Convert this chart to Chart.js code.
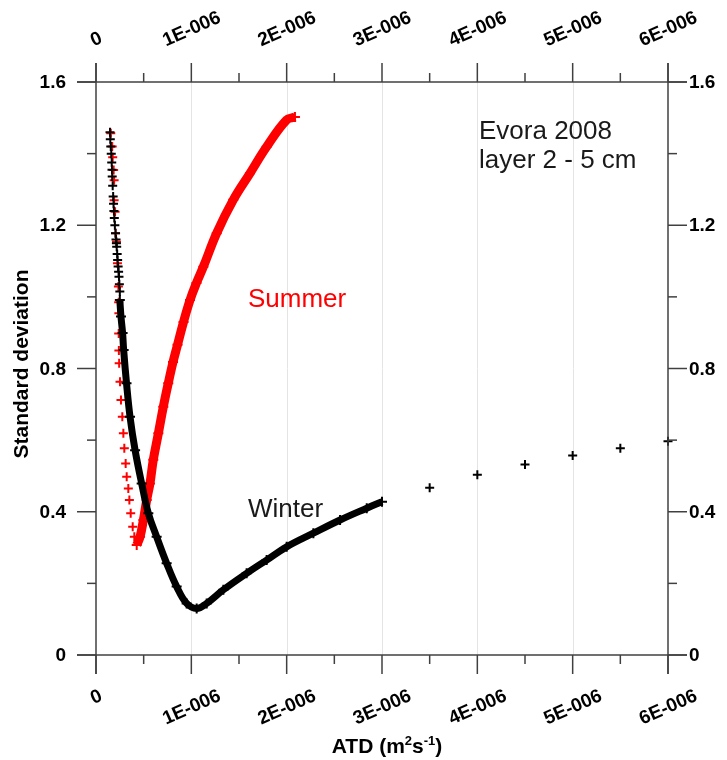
<!DOCTYPE html>
<html>
<head>
<meta charset="utf-8">
<script src="https://cdn.jsdelivr.net/npm/chart.js@4"></script>
<style>
  body { margin: 0; background: #fff; }
  canvas { display: block; }
</style>
</head>
<body>
<canvas id="chartCanvas" width="727" height="760"></canvas>
<script>
// ==========================================
// Data
// ==========================================
const xTickValues = [0, 1e-6, 2e-6, 3e-6, 4e-6, 5e-6, 6e-6];
const xTickLabels = ["0", "1E-006", "2E-006", "3E-006", "4E-006", "5E-006", "6E-006"];
const yTickValues = [0, 0.4, 0.8, 1.2, 1.6];
const yTickLabels = ["0", "0.4", "0.8", "1.2", "1.6"];

// Winter - steep upper branch, separate crosses
const winterTopX = [0.147e-6, 0.150e-6, 0.155e-6, 0.160e-6, 0.165e-6, 0.168e-6, 0.170e-6, 0.175e-6,
                    0.180e-6, 0.184e-6, 0.188e-6, 0.192e-6, 0.198e-6, 0.205e-6, 0.210e-6, 0.214e-6,
                    0.217e-6, 0.222e-6, 0.227e-6, 0.232e-6, 0.237e-6, 0.241e-6, 0.245e-6, 0.250e-6];
const winterTopY = [1.46, 1.44, 1.42, 1.40, 1.375, 1.355, 1.336, 1.31,
                    1.28, 1.26, 1.24, 1.22, 1.20, 1.178, 1.16, 1.15,
                    1.14, 1.12, 1.103, 1.085, 1.07, 1.056, 1.035, 1.015];

// Winter - dense branch through the minimum up to 3E-006
const winterMainX = [0.250e-6, 0.262e-6, 0.279e-6, 0.290e-6, 0.320e-6, 0.357e-6, 0.410e-6, 0.479e-6,
                     0.549e-6, 0.636e-6, 0.741e-6, 0.846e-6, 0.951e-6, 1.056e-6, 1.161e-6, 1.336e-6,
                     1.580e-6, 1.790e-6, 2.000e-6, 2.280e-6, 2.560e-6, 2.840e-6, 3.000e-6];
const winterMainY = [0.991, 0.945, 0.899, 0.852, 0.759, 0.665, 0.572, 0.479,
                     0.396, 0.330, 0.256, 0.191, 0.144, 0.130, 0.144, 0.182,
                     0.228, 0.265, 0.302, 0.340, 0.377, 0.410, 0.428];

// Winter - sparse points beyond 3E-006
const winterTailX = [3.5e-6, 4.0e-6, 4.5e-6, 5.0e-6, 5.5e-6, 6.0e-6];
const winterTailY = [0.467, 0.503, 0.532, 0.557, 0.577, 0.597];

// Summer - falling branch, separate crosses
const summerDownX = [0.155e-6, 0.170e-6, 0.175e-6, 0.185e-6, 0.190e-6, 0.190e-6, 0.200e-6, 0.205e-6,
                     0.215e-6, 0.225e-6, 0.235e-6, 0.238e-6, 0.240e-6, 0.238e-6, 0.240e-6, 0.243e-6,
                     0.252e-6, 0.262e-6, 0.276e-6, 0.287e-6, 0.297e-6, 0.311e-6, 0.322e-6, 0.339e-6,
                     0.350e-6, 0.364e-6, 0.385e-6, 0.402e-6];
const summerDownY = [1.457, 1.42, 1.39, 1.354, 1.326, 1.27, 1.238, 1.178,
                     1.154, 1.094, 1.029, 0.985, 0.954, 0.898, 0.85, 0.815,
                     0.763, 0.712, 0.665, 0.619, 0.577, 0.535, 0.498, 0.465,
                     0.433, 0.396, 0.358, 0.330];

// Summer - rising branch from the minimum
const summerUpX = [0.427e-6, 0.462e-6, 0.497e-6, 0.532e-6, 0.566e-6, 0.601e-6, 0.654e-6, 0.706e-6,
                   0.758e-6, 0.808e-6, 0.855e-6, 0.918e-6, 0.986e-6, 1.054e-6, 1.126e-6, 1.266e-6,
                   1.440e-6, 1.615e-6, 1.790e-6, 2.000e-6, 2.087e-6];
const summerUpY = [0.307, 0.330, 0.377, 0.433, 0.479, 0.545, 0.619, 0.693,
                   0.759, 0.818, 0.866, 0.930, 0.991, 1.039, 1.084, 1.178,
                   1.271, 1.345, 1.419, 1.494, 1.502];

const pts = (xs, ys) => xs.map((x, i) => ({ x: x, y: ys[i] }));

// ==========================================
// Axes frame, ticks, labels and notes
// ==========================================
const FONT = "'Liberation Sans', Arial, sans-serif";
const TICK = 19, MINOR = 9;

const frame = {
    id: "frame",
    beforeDatasetsDraw(chart) {
        const { ctx, chartArea: a, scales: { x } } = chart;
        ctx.save();
        ctx.strokeStyle = "#e4e4e4";
        ctx.lineWidth = 1;
        xTickValues.slice(1, -1).forEach(v => {
            const px = Math.round(x.getPixelForValue(v)) + 0.5;
            ctx.beginPath();
            ctx.moveTo(px, a.top);
            ctx.lineTo(px, a.bottom);
            ctx.stroke();
        });
        ctx.restore();
    },
    afterDatasetsDraw(chart) {
        const { ctx, chartArea: a, scales: { x, y } } = chart;
        ctx.save();
        ctx.strokeStyle = "#404040";
        ctx.lineWidth = 1.5;
        const seg = (x1, y1, x2, y2) => {
            ctx.beginPath(); ctx.moveTo(x1, y1); ctx.lineTo(x2, y2); ctx.stroke();
        };

        // frame lines run past the corners
        seg(a.left - TICK, a.top, a.right + TICK, a.top);
        seg(a.left - TICK, a.bottom, a.right + TICK, a.bottom);
        seg(a.left, a.top - TICK, a.left, a.bottom + TICK);
        seg(a.right, a.top - TICK, a.right, a.bottom + TICK);

        // x ticks top and bottom, minor every 0.5E-006
        for (let i = 0; i <= 12; i++) {
            const px = x.getPixelForValue(i * 0.5e-6);
            const len = i % 2 === 0 ? TICK : MINOR;
            seg(px, a.top - len, px, a.top);
            seg(px, a.bottom, px, a.bottom + len);
        }
        // y ticks left and right, minor every 0.2
        for (let i = 0; i <= 8; i++) {
            const py = y.getPixelForValue(i * 0.2);
            const len = i % 2 === 0 ? TICK : MINOR;
            seg(a.left - len, py, a.left, py);
            seg(a.right, py, a.right + len, py);
        }

        // y tick labels on both sides
        ctx.fillStyle = "#000";
        ctx.font = "bold 19px " + FONT;
        ctx.textBaseline = "middle";
        yTickValues.forEach((v, i) => {
            const py = y.getPixelForValue(v) + 1;
            ctx.textAlign = "right";
            ctx.fillText(yTickLabels[i], a.left - 30, py);
            ctx.textAlign = "left";
            ctx.fillText(yTickLabels[i], a.right + 21, py);
        });

        // rotated x tick labels above and below
        const ang = 24 * Math.PI / 180;
        const capH = 13.5;
        ctx.textAlign = "center";
        xTickValues.forEach((v, i) => {
            const px = x.getPixelForValue(v);
            const w = ctx.measureText(xTickLabels[i]).width;
            const ext = w / 2 * Math.sin(ang) + capH / 2 * Math.cos(ang);
            [a.top - 35 - ext, a.bottom + 33 + ext].forEach(cy => {
                ctx.save();
                ctx.translate(px, cy);
                ctx.rotate(-ang);
                ctx.fillText(xTickLabels[i], 0, 1);
                ctx.restore();
            });
        });

        // axis titles
        ctx.font = "bold 21px " + FONT;
        ctx.save();
        ctx.translate(22, 364);
        ctx.rotate(-Math.PI / 2);
        ctx.textAlign = "center";
        ctx.fillText("Standard deviation", 0, 0);
        ctx.restore();

        const parts = [
            ["ATD (m", 21, 0], ["2", 13, -8], ["s", 21, 0], ["-1", 13, -8], [")", 21, 0]
        ];
        let total = 0;
        parts.forEach(p => { ctx.font = "bold " + p[1] + "px " + FONT; total += ctx.measureText(p[0]).width; });
        let cx = 387 - total / 2;
        ctx.textAlign = "left";
        ctx.textBaseline = "alphabetic";
        parts.forEach(p => {
            ctx.font = "bold " + p[1] + "px " + FONT;
            ctx.fillText(p[0], cx, 753 + p[2]);
            cx += ctx.measureText(p[0]).width;
        });

        // notes inside the plot
        ctx.font = "26px " + FONT;
        ctx.fillStyle = "#1a1a1a";
        ctx.fillText("Evora 2008", 479, 139);
        ctx.fillText("layer 2 - 5 cm", 479, 168);
        ctx.fillText("Winter", 248, 517);
        ctx.fillStyle = "#ff0000";
        ctx.fillText("Summer", 248, 307);
        ctx.restore();
    }
};

// ==========================================
// Chart.js Setup
// ==========================================
const crossPoints = (color) => ({
    showLine: false,
    pointStyle: "cross",
    pointRadius: 4.5,
    pointBorderWidth: 2,
    pointBorderColor: color,
    pointBackgroundColor: color,
    clip: false
});

const bandLine = (color, width) => ({
    showLine: true,
    tension: 0.4,
    borderColor: color,
    borderWidth: width,
    pointStyle: "cross",
    pointRadius: 5,
    pointBorderWidth: 2,
    pointBorderColor: color,
    clip: false
});

const ctx = document.getElementById("chartCanvas").getContext("2d");

const chart = new Chart(ctx, {
    type: "scatter",
    data: {
        datasets: [
            Object.assign({ label: "Winter", data: pts(winterTopX, winterTopY) }, crossPoints("#000")),
            Object.assign({ label: "Winter", data: pts(winterMainX, winterMainY) }, bandLine("#000", 7)),
            Object.assign({ label: "Winter", data: pts(winterTailX, winterTailY) }, crossPoints("#000")),
            Object.assign({ label: "Summer", data: pts(summerDownX, summerDownY) }, crossPoints("#ff0000")),
            Object.assign({ label: "Summer", data: pts(summerUpX, summerUpY) }, bandLine("#ff0000", 9))
        ]
    },
    options: {
        responsive: false,
        animation: false,
        events: [],
        layout: { padding: { left: 96, right: 59, top: 82, bottom: 105 } },
        plugins: { legend: { display: false }, tooltip: { enabled: false } },
        scales: {
            x: { type: "linear", min: 0, max: 6e-6, display: false },
            y: { type: "linear", min: 0, max: 1.6, display: false }
        }
    },
    plugins: [frame]
});
</script>
</body>
</html>
